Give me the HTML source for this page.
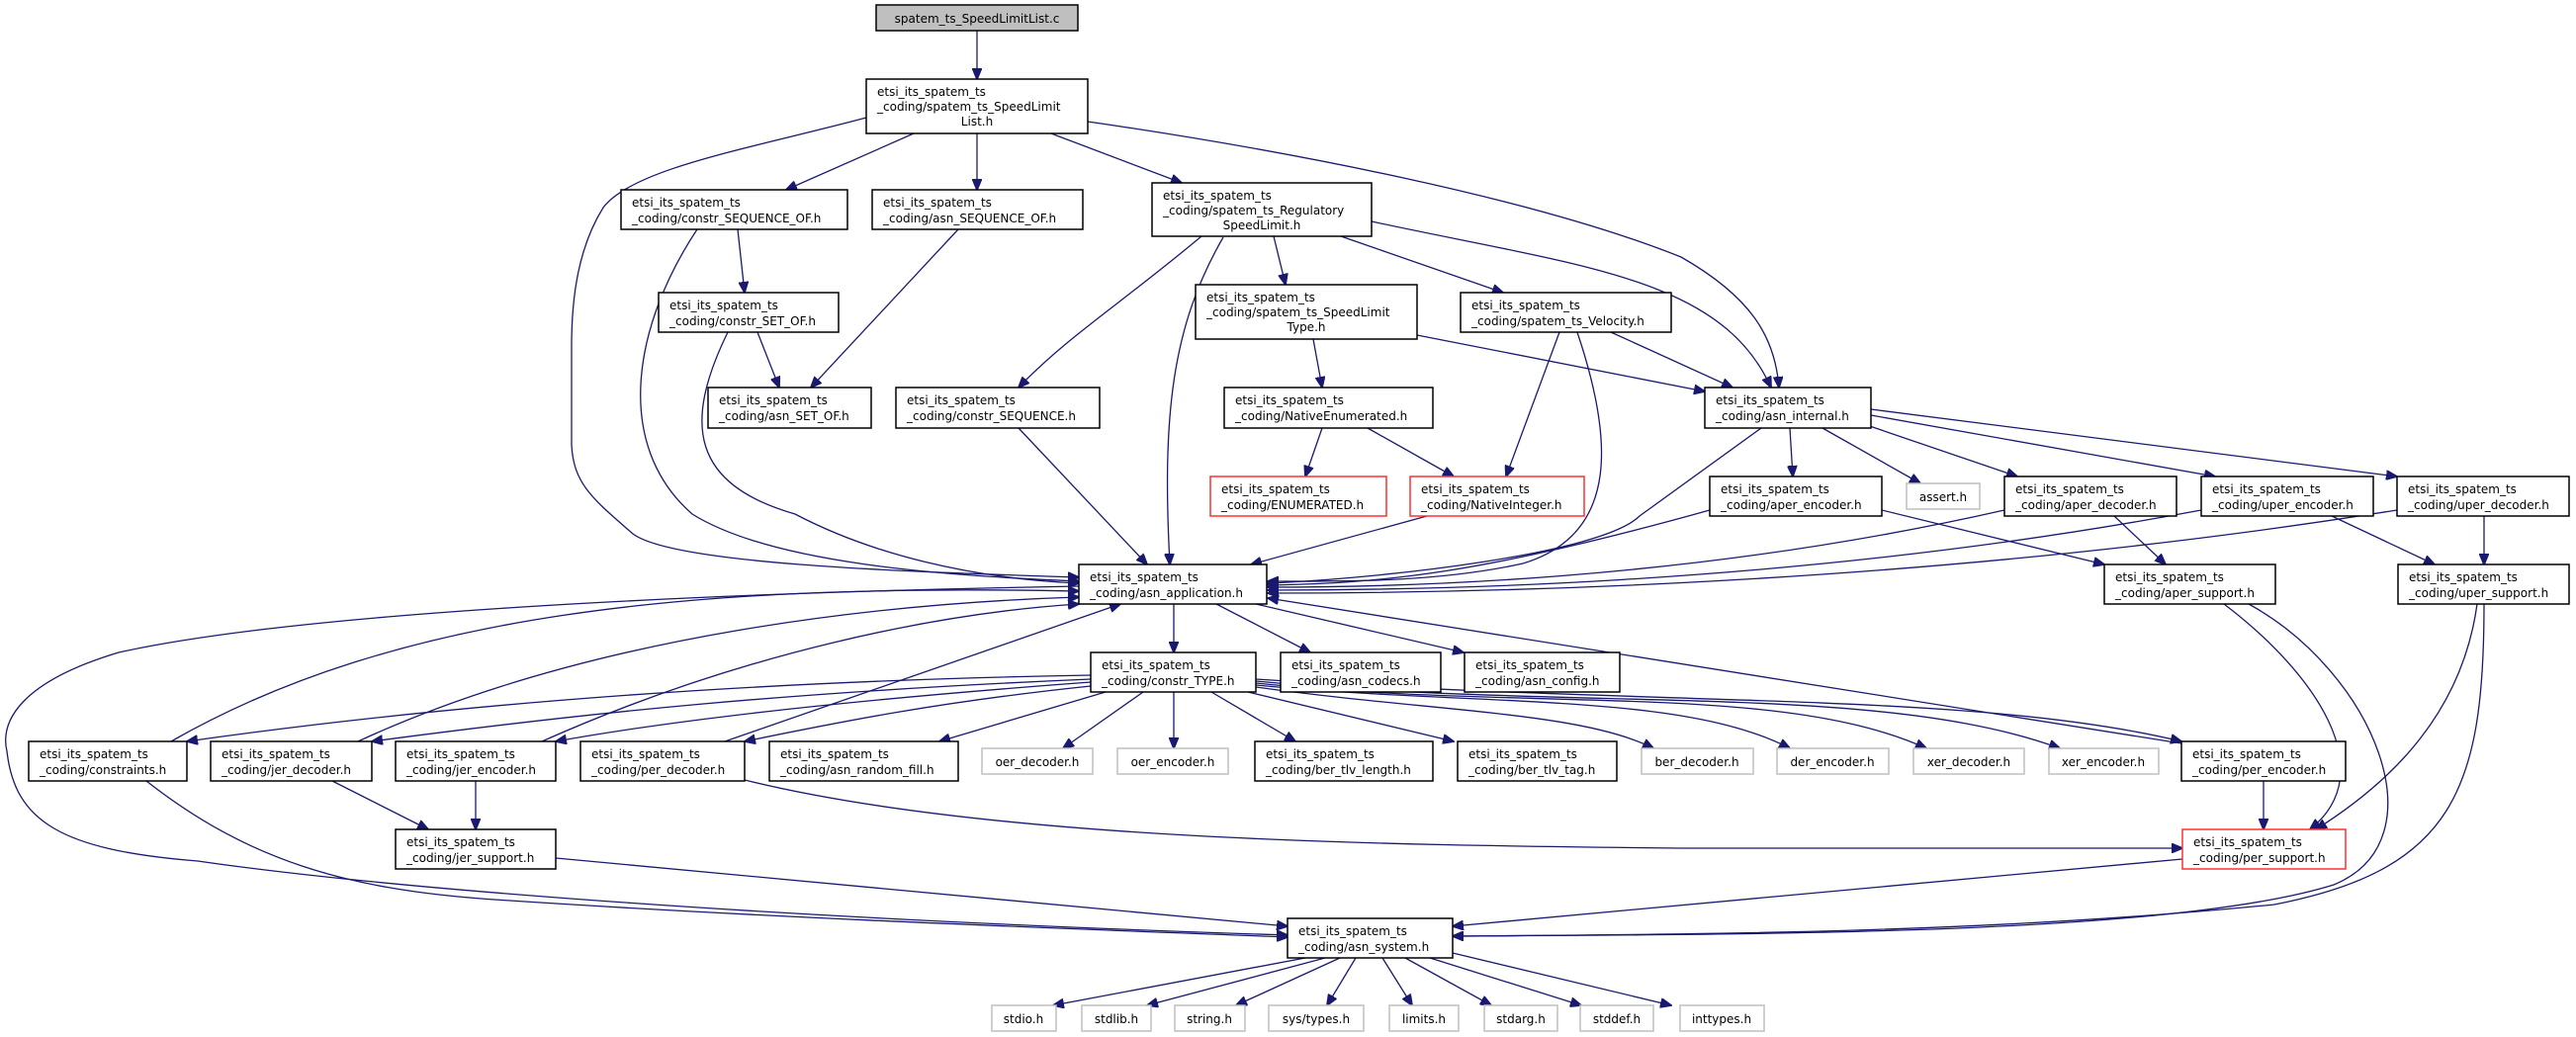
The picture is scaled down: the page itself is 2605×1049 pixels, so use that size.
<!DOCTYPE html>
<html><head><meta charset="utf-8"><style>
html,body{margin:0;padding:0;background:#fff;}
svg{display:block;}
text{font-family:"DejaVu Sans","Liberation Sans",sans-serif;font-size:12px;fill:#000;}
.e{fill:none;stroke:#191970;stroke-width:1.3;marker-end:url(#a);}
.n{fill:#fff;stroke:#000;stroke-width:1.5;}
.g{fill:#fff;stroke:#bfbfbf;stroke-width:1.5;}
.r{fill:#fff;stroke:#ff3030;stroke-width:1.5;}
</style></head><body>
<svg width="2605" height="1049" viewBox="0 0 2605 1049" xmlns="http://www.w3.org/2000/svg">
<defs><marker id="a" markerUnits="userSpaceOnUse" markerWidth="12" markerHeight="10" refX="11" refY="5" orient="auto"><path d="M0,0 L12,5 L0,10 Z" fill="#191970" stroke="#191970"/></marker></defs>
<g>
<path class="e" d="M988,31 L988,80"/>
<path class="e" d="M924,135 L795,192"/>
<path class="e" d="M988,135 L988,192"/>
<path class="e" d="M1063,135 L1195,185"/>
<path class="e" d="M876,119 C760,150 640,170 610,210 C585,250 578,300 578,350 L578,450 C580,490 600,505 640,540 C680,570 900,578 1091,584"/>
<path class="e" d="M1100,123 C1300,152 1550,200 1700,260 C1770,300 1795,340 1799,392"/>
<path class="e" d="M746,232 L753,296"/>
<path class="e" d="M705,232 C640,330 620,450 700,520 C780,570 950,582 1091,588"/>
<path class="e" d="M766,336 L788,392"/>
<path class="e" d="M736,336 C690,430 700,490 804,520 C880,560 980,585 1091,590"/>
<path class="e" d="M969,232 L820,392"/>
<path class="e" d="M1215,239 C1130,310 1080,340 1030,392"/>
<path class="e" d="M1237,240 C1185,330 1175,420 1183,571"/>
<path class="e" d="M1288,239 L1300,288"/>
<path class="e" d="M1356,239 L1520,296"/>
<path class="e" d="M1387,224 C1600,270 1740,280 1791,392"/>
<path class="e" d="M1328,343 L1337,392"/>
<path class="e" d="M1433,339 L1724,396"/>
<path class="e" d="M1577,336 L1523,482"/>
<path class="e" d="M1629,336 L1752,392"/>
<path class="e" d="M1595,336 C1630,440 1640,540 1540,570 C1450,590 1350,588 1282,588"/>
<path class="e" d="M1337,433 L1320,482"/>
<path class="e" d="M1383,433 L1470,482"/>
<path class="e" d="M1443,522 L1265,571"/>
<path class="e" d="M1030,433 L1160,571"/>
<path class="e" d="M1781,433 L1658,522 C1620,560 1400,585 1282,590"/>
<path class="e" d="M1810,433 L1813,482"/>
<path class="e" d="M1843,433 L1942,489"/>
<path class="e" d="M1876,426 L2040,482"/>
<path class="e" d="M1892,420 L2240,482"/>
<path class="e" d="M1892,414 L2424,482"/>
<path class="e" d="M1729,516 C1500,580 1400,590 1282,592"/>
<path class="e" d="M1903,516 L2128,571"/>
<path class="e" d="M2027,516 C1700,590 1400,594 1282,594"/>
<path class="e" d="M2138,522 L2190,571"/>
<path class="e" d="M2226,516 C1800,596 1400,597 1282,597"/>
<path class="e" d="M2358,522 L2462,571"/>
<path class="e" d="M2424,516 C1900,600 1400,600 1282,600"/>
<path class="e" d="M2512,522 L2512,571"/>
<path class="e" d="M1187,611 L1187,660"/>
<path class="e" d="M1230,611 L1325,660"/>
<path class="e" d="M1270,611 L1480,660"/>
<path class="e" d="M1091,593 C700,600 300,620 120,660 C20,690 0,730 7,760 C15,830 60,860 200,871 C400,900 800,930 1302,946"/>
<path class="e" d="M2206,752 L1282,605"/>
<path class="e" d="M1103,683 C700,690 400,720 189,750"/>
<path class="e" d="M1103,687 C800,700 600,720 376,750"/>
<path class="e" d="M1103,690 C900,705 700,725 562,750"/>
<path class="e" d="M1103,694 C950,710 850,730 753,750"/>
<path class="e" d="M1118,700 L950,750"/>
<path class="e" d="M1156,700 L1075,757"/>
<path class="e" d="M1187,700 L1187,757"/>
<path class="e" d="M1225,700 L1310,750"/>
<path class="e" d="M1262,700 L1470,750"/>
<path class="e" d="M1270,695 C1450,720 1600,720 1672,757"/>
<path class="e" d="M1270,693 C1500,715 1700,700 1810,757"/>
<path class="e" d="M1270,691 C1550,720 1800,690 1948,757"/>
<path class="e" d="M1270,689 C1600,720 1900,690 2083,757"/>
<path class="e" d="M1270,687 C1700,715 2000,700 2206,750"/>
<path class="e" d="M173,750 C400,620 700,590 1091,598"/>
<path class="e" d="M362,750 C600,640 900,610 1091,604"/>
<path class="e" d="M548,750 C750,660 950,620 1091,611"/>
<path class="e" d="M733,750 L1133,611"/>
<path class="e" d="M336,790 L433,839"/>
<path class="e" d="M481,790 L481,839"/>
<path class="e" d="M148,790 C250,870 350,900 500,910 C800,930 1100,940 1302,948"/>
<path class="e" d="M562,868 L1302,937"/>
<path class="e" d="M753,789 C1000,850 1400,855 1700,858 L2207,858"/>
<path class="e" d="M2289,790 L2289,839"/>
<path class="e" d="M2249,611 C2340,680 2410,780 2336,839"/>
<path class="e" d="M2274,611 C2400,680 2470,850 2360,895 C2200,945 1800,945 1469,947"/>
<path class="e" d="M2505,611 C2490,720 2420,790 2342,839"/>
<path class="e" d="M2512,611 C2512,800 2480,880 2300,915 C2000,945 1700,945 1469,947"/>
<path class="e" d="M2207,869 L1469,937"/>
<path class="e" d="M1320,969 L1065,1017"/>
<path class="e" d="M1340,969 L1160,1017"/>
<path class="e" d="M1355,969 L1250,1017"/>
<path class="e" d="M1371,969 L1342,1017"/>
<path class="e" d="M1398,969 L1428,1017"/>
<path class="e" d="M1421,969 L1508,1017"/>
<path class="e" d="M1446,969 L1599,1017"/>
<path class="e" d="M1469,964 L1690,1017"/>
</g>
<g>
<rect x="886" y="5" width="204" height="26" fill="#bfbfbf" stroke="#000" stroke-width="1.5"/>
<text x="988" y="23" text-anchor="middle">spatem_ts_SpeedLimitList.c</text>

<rect class="n" x="876" y="80" width="224" height="55"/>
<text x="887" y="97">etsi_its_spatem_ts</text><text x="887" y="112">_coding/spatem_ts_SpeedLimit</text><text x="988" y="127" text-anchor="middle">List.h</text>

<rect class="n" x="628" y="192" width="229" height="40"/>
<text x="639" y="209">etsi_its_spatem_ts</text><text x="639" y="225">_coding/constr_SEQUENCE_OF.h</text>

<rect class="n" x="882" y="192" width="213" height="40"/>
<text x="893" y="209">etsi_its_spatem_ts</text><text x="893" y="225">_coding/asn_SEQUENCE_OF.h</text>

<rect class="n" x="1165" y="185" width="222" height="54"/>
<text x="1176" y="202">etsi_its_spatem_ts</text><text x="1176" y="217">_coding/spatem_ts_Regulatory</text><text x="1276" y="232" text-anchor="middle">SpeedLimit.h</text>

<rect class="n" x="666" y="296" width="182" height="40"/>
<text x="677" y="313">etsi_its_spatem_ts</text><text x="677" y="329">_coding/constr_SET_OF.h</text>

<rect class="n" x="1209" y="288" width="224" height="55"/>
<text x="1220" y="305">etsi_its_spatem_ts</text><text x="1220" y="320">_coding/spatem_ts_SpeedLimit</text><text x="1321" y="335" text-anchor="middle">Type.h</text>

<rect class="n" x="1477" y="296" width="213" height="40"/>
<text x="1488" y="313">etsi_its_spatem_ts</text><text x="1488" y="329">_coding/spatem_ts_Velocity.h</text>

<rect class="n" x="716" y="392" width="165" height="41"/>
<text x="727" y="409">etsi_its_spatem_ts</text><text x="727" y="425">_coding/asn_SET_OF.h</text>

<rect class="n" x="906" y="392" width="206" height="41"/>
<text x="917" y="409">etsi_its_spatem_ts</text><text x="917" y="425">_coding/constr_SEQUENCE.h</text>

<rect class="n" x="1238" y="392" width="211" height="41"/>
<text x="1249" y="409">etsi_its_spatem_ts</text><text x="1249" y="425">_coding/NativeEnumerated.h</text>

<rect class="n" x="1724" y="392" width="168" height="41"/>
<text x="1735" y="409">etsi_its_spatem_ts</text><text x="1735" y="425">_coding/asn_internal.h</text>

<rect class="r" x="1224" y="482" width="178" height="40"/>
<text x="1235" y="499">etsi_its_spatem_ts</text><text x="1235" y="515">_coding/ENUMERATED.h</text>

<rect class="r" x="1426" y="482" width="176" height="40"/>
<text x="1437" y="499">etsi_its_spatem_ts</text><text x="1437" y="515">_coding/NativeInteger.h</text>

<rect class="n" x="1729" y="482" width="174" height="40"/>
<text x="1740" y="499">etsi_its_spatem_ts</text><text x="1740" y="515">_coding/aper_encoder.h</text>

<rect class="g" x="1928" y="489" width="74" height="26"/>
<text x="1965" y="507" text-anchor="middle">assert.h</text>

<rect class="n" x="2027" y="482" width="174" height="40"/>
<text x="2038" y="499">etsi_its_spatem_ts</text><text x="2038" y="515">_coding/aper_decoder.h</text>

<rect class="n" x="2226" y="482" width="174" height="40"/>
<text x="2237" y="499">etsi_its_spatem_ts</text><text x="2237" y="515">_coding/uper_encoder.h</text>

<rect class="n" x="2424" y="482" width="174" height="40"/>
<text x="2435" y="499">etsi_its_spatem_ts</text><text x="2435" y="515">_coding/uper_decoder.h</text>

<rect class="n" x="1091" y="571" width="190" height="40"/>
<text x="1102" y="588">etsi_its_spatem_ts</text><text x="1102" y="604">_coding/asn_application.h</text>

<rect class="n" x="2128" y="571" width="173" height="40"/>
<text x="2139" y="588">etsi_its_spatem_ts</text><text x="2139" y="604">_coding/aper_support.h</text>

<rect class="n" x="2425" y="571" width="173" height="40"/>
<text x="2436" y="588">etsi_its_spatem_ts</text><text x="2436" y="604">_coding/uper_support.h</text>

<rect class="n" x="1103" y="660" width="167" height="40"/>
<text x="1114" y="677">etsi_its_spatem_ts</text><text x="1114" y="693">_coding/constr_TYPE.h</text>

<rect class="n" x="1295" y="660" width="162" height="40"/>
<text x="1306" y="677">etsi_its_spatem_ts</text><text x="1306" y="693">_coding/asn_codecs.h</text>

<rect class="n" x="1481" y="660" width="157" height="40"/>
<text x="1492" y="677">etsi_its_spatem_ts</text><text x="1492" y="693">_coding/asn_config.h</text>

<rect class="n" x="29" y="750" width="160" height="40"/>
<text x="40" y="767">etsi_its_spatem_ts</text><text x="40" y="783">_coding/constraints.h</text>

<rect class="n" x="213" y="750" width="163" height="40"/>
<text x="224" y="767">etsi_its_spatem_ts</text><text x="224" y="783">_coding/jer_decoder.h</text>

<rect class="n" x="400" y="750" width="162" height="40"/>
<text x="411" y="767">etsi_its_spatem_ts</text><text x="411" y="783">_coding/jer_encoder.h</text>

<rect class="n" x="587" y="750" width="166" height="40"/>
<text x="598" y="767">etsi_its_spatem_ts</text><text x="598" y="783">_coding/per_decoder.h</text>

<rect class="n" x="778" y="750" width="191" height="40"/>
<text x="789" y="767">etsi_its_spatem_ts</text><text x="789" y="783">_coding/asn_random_fill.h</text>

<rect class="g" x="993" y="757" width="112" height="26"/>
<text x="1049" y="775" text-anchor="middle">oer_decoder.h</text>

<rect class="g" x="1130" y="757" width="112" height="26"/>
<text x="1186" y="775" text-anchor="middle">oer_encoder.h</text>

<rect class="n" x="1269" y="750" width="180" height="40"/>
<text x="1280" y="767">etsi_its_spatem_ts</text><text x="1280" y="783">_coding/ber_tlv_length.h</text>

<rect class="n" x="1474" y="750" width="161" height="40"/>
<text x="1485" y="767">etsi_its_spatem_ts</text><text x="1485" y="783">_coding/ber_tlv_tag.h</text>

<rect class="g" x="1660" y="757" width="113" height="26"/>
<text x="1716" y="775" text-anchor="middle">ber_decoder.h</text>

<rect class="g" x="1797" y="757" width="113" height="26"/>
<text x="1853" y="775" text-anchor="middle">der_encoder.h</text>

<rect class="g" x="1935" y="757" width="112" height="26"/>
<text x="1991" y="775" text-anchor="middle">xer_decoder.h</text>

<rect class="g" x="2072" y="757" width="111" height="26"/>
<text x="2127" y="775" text-anchor="middle">xer_encoder.h</text>

<rect class="n" x="2206" y="750" width="166" height="40"/>
<text x="2217" y="767">etsi_its_spatem_ts</text><text x="2217" y="783">_coding/per_encoder.h</text>

<rect class="n" x="400" y="839" width="162" height="40"/>
<text x="411" y="856">etsi_its_spatem_ts</text><text x="411" y="872">_coding/jer_support.h</text>

<rect class="r" x="2207" y="839" width="165" height="40"/>
<text x="2218" y="856">etsi_its_spatem_ts</text><text x="2218" y="872">_coding/per_support.h</text>

<rect class="n" x="1302" y="929" width="167" height="40"/>
<text x="1313" y="946">etsi_its_spatem_ts</text><text x="1313" y="962">_coding/asn_system.h</text>

<rect class="g" x="1003" y="1017" width="65" height="26"/><text x="1035" y="1035" text-anchor="middle">stdio.h</text>
<rect class="g" x="1094" y="1017" width="70" height="26"/><text x="1129" y="1035" text-anchor="middle">stdlib.h</text>
<rect class="g" x="1188" y="1017" width="71" height="26"/><text x="1223" y="1035" text-anchor="middle">string.h</text>
<rect class="g" x="1283" y="1017" width="96" height="26"/><text x="1331" y="1035" text-anchor="middle">sys/types.h</text>
<rect class="g" x="1405" y="1017" width="70" height="26"/><text x="1440" y="1035" text-anchor="middle">limits.h</text>
<rect class="g" x="1501" y="1017" width="74" height="26"/><text x="1538" y="1035" text-anchor="middle">stdarg.h</text>
<rect class="g" x="1598" y="1017" width="74" height="26"/><text x="1635" y="1035" text-anchor="middle">stddef.h</text>
<rect class="g" x="1699" y="1017" width="85" height="26"/><text x="1741" y="1035" text-anchor="middle">inttypes.h</text>
</g>
</svg>
</body></html>
